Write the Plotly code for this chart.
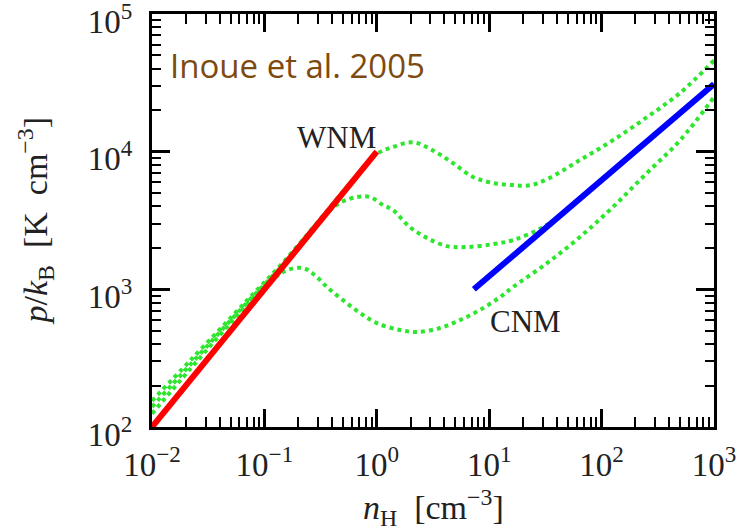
import plotly.graph_objects as go

# ---- data ----
n_top = [0.01, 0.022, 0.07, 0.15, 0.3, 0.6, 1.0, 1.39, 2.1, 3.16, 4.76, 7.18, 10.8, 16.3, 23, 32.7, 64.2, 126, 253, 499, 1000]
p_top = [155, 305, 830, 1600, 3100, 6100, 9600, 10800, 11700, 10200, 8260, 6550, 5920, 5720, 5700, 6300, 8690, 12100, 17800, 26700, 46000]

n_mid = [0.01, 0.022, 0.07, 0.15, 0.3, 0.47, 0.67, 0.87, 1.14, 1.39, 1.97, 2.8, 4.21, 6.34, 10.8, 16.3, 32.7, 100, 300, 1000]
p_mid = [140, 285, 800, 1540, 3050, 4250, 4680, 4680, 4090, 3770, 2830, 2360, 2060, 2030, 2130, 2280, 2950, 6200, 13500, 31000]

n_bot = [0.01, 0.022, 0.07, 0.1, 0.15, 0.22, 0.28, 0.36, 0.5, 0.71, 1.0, 1.61, 2.28, 3.65, 5.5, 8.28, 12.5, 16.3, 32.7, 64.2, 126, 253, 499, 1000]
p_bot = [125, 265, 770, 1030, 1350, 1430, 1270, 1040, 835, 673, 569, 506, 490, 524, 598, 708, 879, 1040, 1550, 2400, 3960, 7000, 12100, 24900]

n_wnm = [0.01, 1.0]
p_wnm = [100, 10000]

n_cnm = [7.3, 1000]
p_cnm = [1000, 31000]

x_tickvals = [0.01, 0.1, 1, 10, 100, 1000]
x_ticktext = ["10<sup>−2</sup>", "10<sup>−1</sup>", "10<sup>0</sup>", "10<sup>1</sup>", "10<sup>2</sup>", "10<sup>3</sup>"]
y_tickvals = [100, 1000, 10000, 100000]
y_ticktext = ["10<sup>2</sup>", "10<sup>3</sup>", "10<sup>4</sup>", "10<sup>5</sup>"]

SERIF = "Liberation Serif"
GREEN = "#2ee62e"
TXT = "#222222"

fig = go.Figure()
for nx, py in [(n_top, p_top), (n_mid, p_mid), (n_bot, p_bot)]:
    fig.add_trace(go.Scatter(x=nx, y=py, mode="lines",
                             line=dict(color=GREEN, width=4, dash="4px,4px", shape="spline", smoothing=1.0),
                             showlegend=False, hoverinfo="skip"))
fig.add_trace(go.Scatter(x=n_wnm, y=p_wnm, mode="lines", line=dict(color="#ff0000", width=6), showlegend=False))
fig.add_trace(go.Scatter(x=n_cnm, y=p_cnm, mode="lines", line=dict(color="#0000ff", width=6), showlegend=False))

minor_x = [k * 10.0 ** e for e in range(-2, 3) for k in range(2, 10)]
minor_y = [k * 10.0 ** e for e in range(2, 5) for k in range(2, 10)]

axis_common = dict(showline=True, linecolor="black", linewidth=3, mirror="allticks",
                   ticks="inside", ticklen=18, tickwidth=2.5, tickcolor="black",
                   showgrid=False, zeroline=False, ticklabeloverflow="allow", automargin=False,
                   tickfont=dict(family=SERIF, size=33, color=TXT))

fig.update_xaxes(type="log", range=[-2.0000001, 3.0000001], tickvals=x_tickvals, ticktext=x_ticktext,
                 minor=dict(tickvals=minor_x, ticks="inside", ticklen=10, tickwidth=2, tickcolor="black", showgrid=False),
                 ticklabelstandoff=6,
                 **axis_common)
fig.update_yaxes(type="log", range=[1.9999999, 5.0000001], tickvals=y_tickvals, ticktext=y_ticktext,
                 minor=dict(tickvals=minor_y, ticks="inside", ticklen=9, tickwidth=2, tickcolor="black", showgrid=False),
                 ticklabelstandoff=10, ticklabelshift=7,
                 **axis_common)

fig.add_annotation(text="<i>n</i><sub>H</sub>&nbsp;&nbsp;[cm<sup>−3</sup>]", xref="paper", yref="paper",
                   x=0.5, y=0, yanchor="middle", yshift=-80, showarrow=False,
                   font=dict(family=SERIF, size=34, color=TXT))
fig.add_annotation(text="<i>p</i>/<i>k</i><sub>B</sub>&nbsp;&nbsp;[K&nbsp;&nbsp;cm<sup>−3</sup>]", xref="paper", yref="paper",
                   x=0, y=0.5, xanchor="center", xshift=-117, textangle=-90, showarrow=False,
                   font=dict(family=SERIF, size=34, color=TXT))
fig.add_annotation(text="Inoue et al. 2005", xref="paper", yref="paper",
                   x=0, y=1, xanchor="left", yanchor="middle", xshift=16, yshift=-51, showarrow=False,
                   font=dict(family="Open Sans", size=33, color="#7d4a10"))
fig.add_annotation(text="WNM", x=-0.363, y=4.106, xref="x", yref="y", showarrow=False,
                   font=dict(family=SERIF, size=31, color=TXT))
fig.add_annotation(text="CNM", x=1.327, y=2.763, xref="x", yref="y", showarrow=False,
                   font=dict(family=SERIF, size=31, color=TXT))

fig.update_layout(width=744, height=531, margin=dict(l=152, r=30, t=14, b=104),
                  plot_bgcolor="white", paper_bgcolor="white")

fig.write_html("out.html")
